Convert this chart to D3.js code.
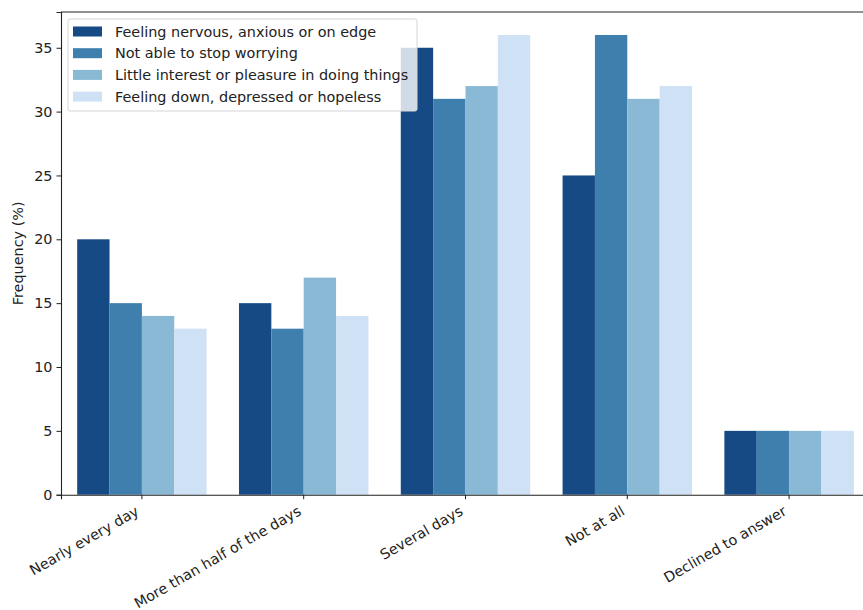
<!DOCTYPE html>
<html><head><meta charset="utf-8">
<script src="https://cdn.jsdelivr.net/npm/d3@7"></script>
<style>body{margin:0;background:#fff;} text{font-family:"DejaVu Sans",sans-serif;}</style>
</head><body><svg id="c" width="863" height="610"></svg>
<script>
const categories = ["Nearly every day","More than half of the days","Several days","Not at all","Declined to answer"];
const seriesNames = ["Feeling nervous, anxious or on edge","Not able to stop worrying","Little interest or pleasure in doing things","Feeling down, depressed or hopeless"];
const nervous = [20,15,35,25,5];
const worrying = [15,13,31,36,5];
const interest = [14,17,32,31,5];
const down = [13,14,36,32,5];
const yTicks = [0,5,10,15,20,25,30,35];
const colors = ["#164a85","#3e7fae","#8ab9d5","#cfe1f4"];
const series = [nervous, worrying, interest, down];

const FS = 14.4;
const svg = d3.select("#c");
const mLeft = 61, mRight = 870, mTop = 12, mBottom = 494.7;
const x = d3.scaleBand().domain(categories).range([mLeft, mRight]).padding(0);
const groupW = x.bandwidth() * 0.8;
const x1 = d3.scaleBand().domain(d3.range(4))
  .range([(x.bandwidth() - groupW) / 2, (x.bandwidth() + groupW) / 2]).padding(0);
const y = d3.scaleLinear().domain([0, 37.8]).range([mBottom, mTop]);

series.forEach((vals, si) => {
  svg.append("g").selectAll("rect").data(vals).join("rect")
    .attr("x", (d, i) => x(categories[i]) + x1(si))
    .attr("width", x1.bandwidth())
    .attr("y", d => y(d))
    .attr("height", d => y(0) - y(d))
    .attr("fill", colors[si]);
});

const yAxis = svg.append("g").attr("transform", `translate(${mLeft},0)`)
  .call(d3.axisLeft(y).tickValues(yTicks).tickSize(4.5).tickPadding(4));
yAxis.selectAll("text").attr("font-size", FS).attr("fill", "#222");
yAxis.select(".domain").attr("stroke", "#222").attr("stroke-width", 1.1);
yAxis.selectAll(".tick line").attr("stroke", "#222");

const xAxis = svg.append("g").attr("transform", `translate(0,${mBottom})`)
  .call(d3.axisBottom(x).tickSize(4.5));
xAxis.select(".domain").attr("stroke", "#222").attr("stroke-width", 1.1);
xAxis.selectAll(".tick line").attr("stroke", "#222");
xAxis.selectAll(".tick text").each(function () {
  const t = d3.select(this);
  t.attr("font-size", FS).attr("fill", "#222").attr("text-anchor", "end")
   .attr("y", 0).attr("dy", 0).attr("transform", "rotate(-30)");
  const b = this.getBBox();
  // corners of text bbox rotated by -30deg
  const a = -30 * Math.PI / 180, c = Math.cos(a), s = Math.sin(a);
  const pts = [[b.x, b.y], [b.x + b.width, b.y], [b.x, b.y + b.height], [b.x + b.width, b.y + b.height]]
    .map(([px, py]) => [px * c - py * s, px * s + py * c]);
  const maxX = d3.max(pts, p => p[0]), minY = d3.min(pts, p => p[1]);
  t.attr("transform", `translate(${-maxX + 0},${8 - minY}) rotate(-30)`);
});

svg.append("line").attr("x1", mLeft).attr("x2", 863).attr("y1", mTop).attr("y2", mTop).attr("stroke", "#222").attr("stroke-width", 1.1);

svg.append("text").attr("transform", `translate(18,${(mTop + mBottom) / 2}) rotate(-90)`)
  .attr("text-anchor", "middle").attr("dy", "0.35em").attr("font-size", FS).attr("fill", "#222")
  .text("Frequency (%)");

const lg = svg.append("g").attr("transform", "translate(68,19)");
lg.append("rect").attr("width", 349).attr("height", 92).attr("rx", 2)
  .attr("fill", "rgba(255,255,255,0.8)").attr("stroke", "#d6d6d6");
seriesNames.forEach((n, i) => {
  const yy = 12.5 + i * 21.7;
  lg.append("rect").attr("x", 5).attr("y", yy - 5).attr("width", 29).attr("height", 10).attr("fill", colors[i]);
  lg.append("text").attr("x", 47).attr("y", yy).attr("dy", "0.35em").attr("font-size", FS).attr("fill", "#222").text(n);
});
</script></body></html>
